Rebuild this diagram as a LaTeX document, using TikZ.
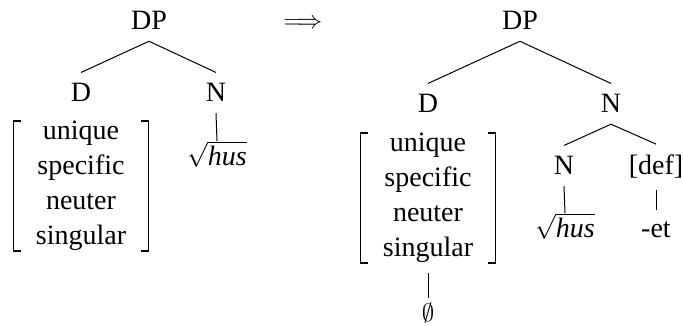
\documentclass[tikz,border=0pt]{standalone}
\usepackage{fontspec}
\setmainfont{Liberation Serif}
\usepackage{tikz}
\usetikzlibrary{calc}

\begin{document}
\begin{tikzpicture}[x=1pt, y=-1pt, font=\fontsize{28}{35}\selectfont,
    lbl/.style={inner xsep=2pt, inner ysep=11pt, anchor=base},
    rootlbl/.style={inner sep=0pt, anchor=base},
    feat/.style={inner xsep=22pt, inner ysep=0pt, align=center},
    brk/.style={line width=1.3pt},
    branch/.style={line width=1pt}]
    \useasboundingbox (0,0) rectangle (683,326);

    % --- 宏：特征矩阵两侧的方括号 ---
    \newcommand{\featbrk}[1]{
        \draw[brk] ([xshift=7pt]#1.north west) -- (#1.north west)
            -- (#1.south west) -- ([xshift=7pt]#1.south west);
        \draw[brk] ([xshift=-7pt]#1.north east) -- (#1.north east)
            -- (#1.south east) -- ([xshift=-7pt]#1.south east);
    }

    % --- 左树 ---
    \node[lbl] (ldp) at (149,30) {DP};
    \node[lbl] (ld) at (81,102) {D};
    \node[lbl] (ln) at (216,102) {N};
    \node[feat] (ldfeat) at (81,186) {unique\\ specific\\ neuter\\ singular};
    \featbrk{ldfeat}
    \node[rootlbl] (lroot) at (217,165) {$\sqrt{\textit{hus}}$};
    \draw[branch] (ldp.south) -- (ld.north);
    \draw[branch] (ldp.south) -- (ln.north);
    \draw[branch] (ln.south) -- (lroot.north);

    % --- 箭头 ---
    \node[inner sep=0pt, anchor=base] (impl) at (303,29) {$\Longrightarrow$};

    % --- 右树 ---
    \node[lbl] (rdp) at (520,30) {DP};
    \node[lbl] (rd) at (428,113) {D};
    \node[lbl] (rn) at (611,113) {N};
    \node[feat] (rdfeat) at (428,198) {unique\\ specific\\ neuter\\ singular};
    \featbrk{rdfeat}
    \node[lbl, inner ysep=4pt] (null) at (428,321) {$\emptyset$};
    \node[lbl] (rnn) at (564,175) {N};
    \node[lbl] (rdef) at (656,175) {[def]};
    \node[rootlbl] (rroot) at (565,237) {$\sqrt{\textit{hus}}$};
    \node[lbl] (ret) at (656,237) {-et};
    \draw[branch] (rdp.south) -- (rd.north);
    \draw[branch] (rdp.south) -- (rn.north);
    \draw[branch] (rn.south) -- (rnn.north);
    \draw[branch] (rn.south) -- (rdef.north);
    \draw[branch] (rnn.south) -- (rroot.north);
    \draw[branch] (rdef.south) -- (ret.north);
    \draw[branch, shorten <=10pt] (rdfeat.south) -- (null.north);
\end{tikzpicture}
\end{document}
